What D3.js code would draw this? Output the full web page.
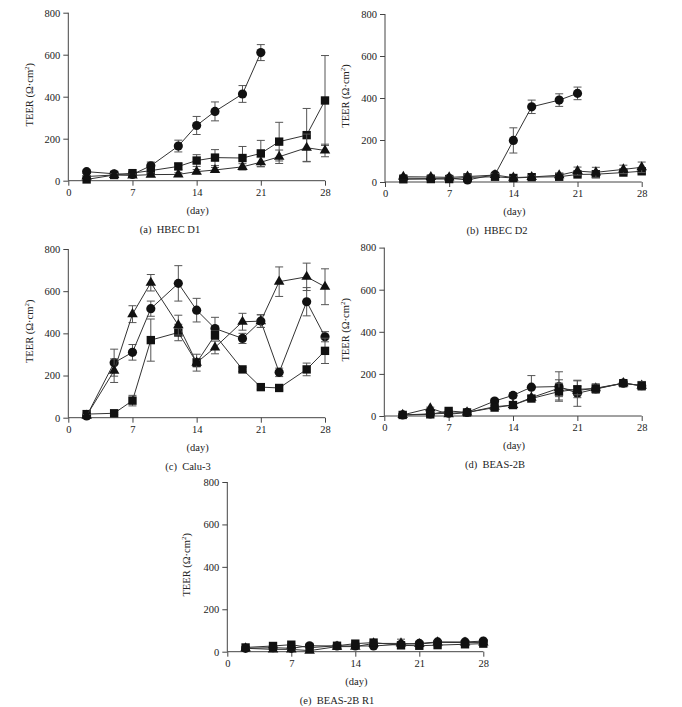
<!DOCTYPE html>
<html>
<head>
<meta charset="utf-8">
<script src="https://cdn.jsdelivr.net/npm/d3@7"></script>
<style>
  html, body { margin: 0; padding: 0; background: #fff; }
  svg { display: block; }
  text { font-family: "Liberation Serif", "DejaVu Serif", serif; fill: #222; }
</style>
</head>
<body>
<svg id="chart" width="682" height="707"></svg>
<script>
// ---------------- DATA ----------------
const days = [2, 5, 7, 9, 12, 14, 16, 19, 21, 23, 26, 28];
const xTicks = [0, 7, 14, 21, 28];
const yTicks = [0, 200, 400, 600, 800];
const panelLabels = ["(a)  HBEC D1", "(b)  HBEC D2", "(c)  Calu-3", "(d)  BEAS-2B", "(e)  BEAS-2B R1"];
const xTitle = "(day)";

// (a) HBEC D1
const circleA = [43, 33, 30, 71, 165, 263, 330, 413, 610];
const circleAErr = [8, 6, 8, 18, 28, 43, 45, 40, 38];
const squareA = [6, 27, 36, 48, 68, 96, 110, 108, 130, 186, 217, 382];
const squareAErr = [5, 8, 8, 12, 15, 28, 38, 55, 62, 92, 127, 214];
const triangleA = [20, 27, 25, 29, 30, 43, 51, 66, 88, 114, 157, 144];
const triangleAErr = [5, 6, 6, 8, 8, 10, 12, 15, 22, 32, 65, 30];

// (b) HBEC D2
const circleB = [18, 17, 18, 10, 35, 198, 358, 390, 422];
const circleBErr = [12, 10, 8, 12, 10, 60, 32, 30, 30];
const squareB = [13, 14, 14, 22, 25, 19, 23, 25, 36, 37, 45, 51];
const squareBErr = [5, 5, 5, 5, 5, 5, 5, 5, 8, 8, 10, 12];
const triangleB = [25, 24, 22, 26, 33, 21, 24, 32, 52, 46, 60, 70];
const triangleBErr = [10, 10, 6, 8, 8, 5, 6, 8, 19, 24, 20, 25];

// (c) Calu-3
const circleC = [8, 261, 310, 517, 637, 510, 423, 376, 458, 215, 550, 384];
const circleCErr = [5, 64, 37, 36, 84, 56, 53, 24, 30, 20, 67, 24];
const squareC = [17, 21, 81, 368, 404, 261, 392, 229, 145, 141, 229, 317];
const squareCErr = [5, 5, 25, 100, 39, 20, 20, 10, 10, 10, 30, 60];
const triangleC = [10, 223, 491, 640, 439, 261, 333, 455, 458, 645, 668, 621];
const triangleCErr = [5, 56, 40, 39, 47, 40, 30, 40, 30, 70, 65, 85];

// (d) BEAS-2B
const circleD = [5, 10, 13, 17, 71, 98, 137, 140, 108, 128, 156, 144];
const circleDErr = [3, 3, 3, 4, 10, 12, 55, 70, 62, 15, 10, 15];
const squareD = [5, 8, 24, 17, 40, 52, 83, 116, 127, 130, 156, 144];
const squareDErr = [3, 3, 4, 4, 6, 6, 10, 40, 40, 22, 10, 20];
const triangleD = [5, 37, 8, 17, 44, 52, 87, 132, 121, 132, 156, 144];
const triangleDErr = [3, 5, 3, 4, 6, 6, 10, 40, 20, 20, 10, 20];

// (e) BEAS-2B R1
const circleE = [16, 19, 16, 28, 27, 27, 27, 35, 39, 46, 46, 50];
const circleEErr = [3, 3, 3, 4, 4, 4, 4, 6, 6, 5, 5, 5];
const squareE = [20, 27, 33, 19, 28, 38, 43, 30, 28, 31, 35, 38];
const squareEErr = [3, 4, 4, 4, 4, 5, 5, 6, 6, 5, 5, 5];
const triangleE = [16, 11, 11, 5, 24, 24, 39, 39, 36, 44, 43, 43];
const triangleEErr = [3, 3, 3, 3, 4, 4, 5, 20, 6, 5, 5, 5];

// ---------------- LAYOUT ----------------
const panels = [
  { x0: 68.3, x1: 325, yTop: 12.7, yBot: 180.7, lblX: 170, titleX: 33,
    series: [[circleA, circleAErr, "circle"], [squareA, squareAErr, "square"], [triangleA, triangleAErr, "triangle"]] },
  { x0: 385, x1: 641.7, yTop: 14, yBot: 182, lblX: 497, titleX: 348.5,
    series: [[circleB, circleBErr, "circle"], [squareB, squareBErr, "square"], [triangleB, triangleBErr, "triangle"]] },
  { x0: 68.3, x1: 325, yTop: 249, yBot: 417.7, lblX: 188, titleX: 33,
    series: [[circleC, circleCErr, "circle"], [squareC, squareCErr, "square"], [triangleC, triangleCErr, "triangle"]] },
  { x0: 384.3, x1: 641.7, yTop: 247.6, yBot: 416, lblX: 495, titleX: 348.5,
    series: [[circleD, circleDErr, "circle"], [triangleD, triangleDErr, "triangle"], [squareD, squareDErr, "square"]] },
  { x0: 227.3, x1: 483.3, yTop: 482, yBot: 651.7, lblX: 337, titleX: 190,
    series: [[circleE, circleEErr, "circle"], [triangleE, triangleEErr, "triangle"], [squareE, squareEErr, "square"]] }
];

const symbols = {
  circle: d3.symbol().type(d3.symbolCircle).size(66),
  square: d3.symbol().type(d3.symbolSquare).size(70),
  triangle: d3.symbol().type(d3.symbolTriangle).size(48)
};

const svg = d3.select("#chart");
const FS = 10.5;

panels.forEach((p, i) => {
  const x = d3.scaleLinear().domain([0, 28]).range([p.x0, p.x1]);
  const y = d3.scaleLinear().domain([0, 800]).range([p.yBot, p.yTop]);
  const g = svg.append("g");

  // axes
  const xAxis = g.append("g").attr("transform", `translate(0,${p.yBot})`)
    .call(d3.axisBottom(x).tickValues(xTicks).tickSize(5).tickPadding(3).tickFormat(d3.format("d")));
  const yAxis = g.append("g").attr("transform", `translate(${p.x0},0)`)
    .call(d3.axisLeft(y).tickValues(yTicks).tickSize(5).tickPadding(3).tickFormat(d3.format("d")));
  [xAxis, yAxis].forEach(a => {
    a.select(".domain").attr("stroke", "#444").attr("stroke-width", 1);
    a.selectAll(".tick line").attr("stroke", "#444");
    a.selectAll(".tick text").attr("font-size", FS).attr("font-family", "Liberation Serif").attr("fill", "#222");
  });
  // remove the outer tick end caps of domain path (make plain line)
  xAxis.select(".domain").attr("d", `M${p.x0},0H${p.x1}`);
  yAxis.select(".domain").attr("d", `M0,${p.yBot}V${p.yTop}`);

  // y title
  const cy = (p.yTop + p.yBot) / 2 - 2;
  const t = g.append("text")
    .attr("transform", `translate(${p.titleX},${cy}) rotate(-90)`)
    .attr("text-anchor", "middle")
    .attr("font-size", FS);
  t.append("tspan").text("TEER (Ω·cm");
  t.append("tspan").attr("font-size", 7).attr("dy", -4).text("2");
  t.append("tspan").attr("dy", 4).text(")");

  // x title
  g.append("text").attr("x", (p.x0 + p.x1) / 2 + 1).attr("y", p.yBot + 33)
    .attr("text-anchor", "middle").attr("font-size", FS).text(xTitle);

  // panel label
  g.append("text").attr("x", p.lblX).attr("y", p.yBot + 52)
    .attr("text-anchor", "middle").attr("font-size", FS)
    .attr("xml:space", "preserve").style("white-space", "pre").text(panelLabels[i]);

  const line = d3.line().x(d => x(d.day)).y(d => y(d.v));

  p.series.forEach(([vals, errs, shape]) => {
    const pts = vals.map((v, k) => ({ day: days[k], v: v, e: errs[k] }));
    // error bars
    const eb = g.append("g").attr("stroke", "#555").attr("stroke-width", 1);
    pts.forEach(d => {
      if (!d.e) return;
      const cx = x(d.day), yt = y(d.v + d.e), yb = y(Math.max(0, d.v - d.e));
      eb.append("line").attr("x1", cx).attr("x2", cx).attr("y1", yt).attr("y2", yb);
      eb.append("line").attr("x1", cx - 4).attr("x2", cx + 4).attr("y1", yt).attr("y2", yt);
      eb.append("line").attr("x1", cx - 4).attr("x2", cx + 4).attr("y1", yb).attr("y2", yb);
    });
    g.append("path").datum(pts).attr("d", line)
      .attr("fill", "none").attr("stroke", "#333").attr("stroke-width", 1);
    g.append("g").selectAll("path").data(pts).join("path")
      .attr("transform", d => `translate(${x(d.day)},${y(d.v)})`)
      .attr("d", symbols[shape]())
      .attr("fill", "#111");
  });
});
</script>
</body>
</html>
